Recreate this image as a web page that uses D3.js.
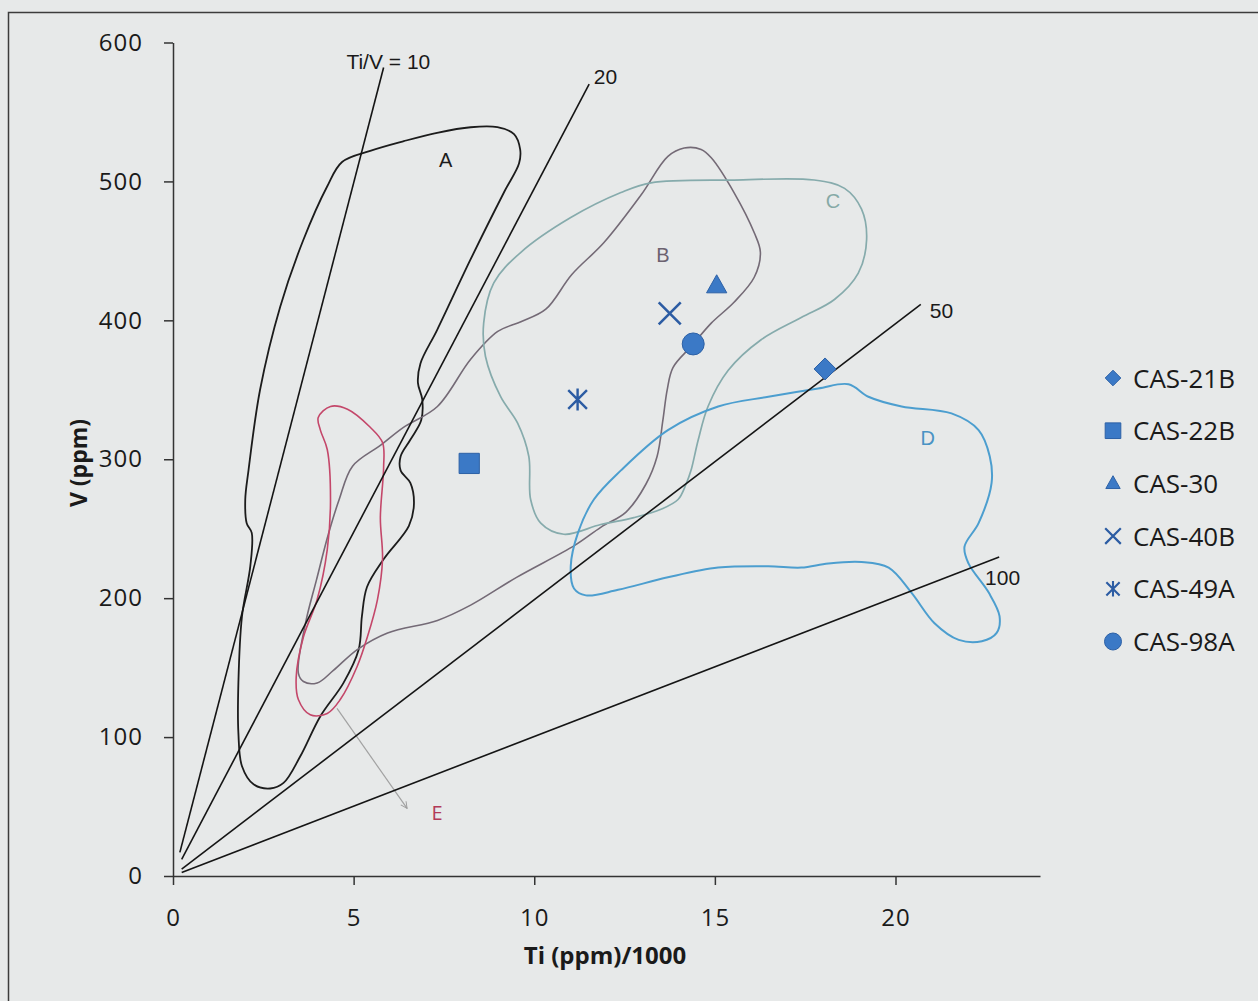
<!DOCTYPE html>
<html><head><meta charset="utf-8">
<script src="https://cdn.jsdelivr.net/npm/d3@7"></script>
<style>html,body{margin:0;padding:0;background:#e7e9e9;} svg{display:block}</style>
</head><body><svg id="chart" width="1258" height="1001"></svg>
<script>
// ---------- data ----------
const xTicks = [0, 5, 10, 15, 20];
const yTicks = [0, 100, 200, 300, 400, 500, 600];
const xTitle = "Ti (ppm)/1000";
const yTitle = "V (ppm)";

const sampleNames  = ["CAS-21B", "CAS-22B", "CAS-30", "CAS-40B", "CAS-49A", "CAS-98A"];
const sampleShapes = ["diamond", "square", "triangle", "x", "asterisk", "circle"];
const sampleTi     = [18.05, 8.2, 15.05, 13.75, 11.2, 14.4];
const sampleV      = [365, 297, 425, 405, 343, 383];

const ratioLabels  = ["Ti/V = 10", "20", "50", "100"];
const ratioStartTi = [0.19, 0.24, 0.24, 0.24];
const ratioStartV  = [17, 12, 5, 2.5];
const ratioEndTi   = [5.83, 11.52, 20.70, 22.87];
const ratioEndV    = [582, 570, 411.5, 229.6];
const ratioLabelTi = [4.80, 11.65, 20.95, 22.48];
const ratioLabelV  = [581, 570, 402, 209.5];

const fieldNames = ["A", "B", "C", "D", "E"];
const fieldA = [[4.68,514],[5.46,522],[6.39,529],[7.31,535],[8.24,539],[8.98,539],[9.44,534],[9.61,523],[9.58,513],[9.16,492],[8.24,444],[7.31,393],[6.85,369],[6.78,355],[6.90,343],[6.87,328],[6.57,314],[6.30,302],[6.30,292],[6.57,283],[6.67,268],[6.53,252],[5.83,228],[5.37,208],[5.23,187],[5.14,163],[4.72,139],[4.08,115],[3.52,86],[3.06,67],[2.69,63],[2.23,66],[1.91,79],[1.81,103],[1.81,139],[1.91,187],[2.14,223],[2.18,247],[2.04,254],[2.00,271],[2.09,292],[2.41,350],[2.97,410],[3.61,458],[4.26,496]];
const fieldB = [[3.47,146],[3.66,181],[3.97,213],[4.30,246],[4.60,271],[4.97,295],[5.74,310],[6.38,323],[7.32,338],[8.24,372],[8.99,392],[9.63,399],[10.32,408],[11.04,433],[11.93,456],[12.95,490],[13.70,518],[14.15,524],[14.62,523],[14.90,517],[15.53,492],[16.09,463],[16.26,449],[16.09,431],[15.53,413],[14.90,398],[14.37,382],[13.84,366],[13.68,350],[13.56,328],[13.40,302],[13.09,282],[12.54,262],[11.84,251],[11.12,238],[9.51,215],[8.24,195],[7.32,184],[5.94,175],[5.10,163],[4.44,148],[3.99,139],[3.61,140]];
const fieldC = [[9.63,449],[11.01,474],[12.40,492],[13.23,499],[15.53,501],[17.75,501],[18.59,495],[19.06,480],[19.20,458],[18.97,434],[18.31,415],[17.39,402],[16.28,386],[15.37,364],[14.81,338],[14.54,314],[14.34,292],[14.20,282],[13.98,271],[13.51,264],[12.76,258],[11.84,253],[10.82,246],[10.18,254],[9.90,271],[9.85,302],[9.54,326],[9.07,345],[8.65,374],[8.60,398],[8.88,427]];
const fieldD = [[11.65,271],[12.40,292],[13.70,321],[15.09,338],[16.48,345],[17.86,351],[18.70,354],[19.25,345],[20.17,338],[21.55,333],[22.30,321],[22.61,302],[22.66,283],[22.30,254],[21.91,237],[22.02,225],[22.58,204],[22.88,187],[22.80,175],[22.39,169],[21.75,170],[21.08,182],[20.44,204],[19.81,222],[19.06,226],[18.14,225],[17.39,222],[16.48,223],[15.09,222],[13.70,215],[12.32,206],[11.43,202],[11.10,207],[11.01,223],[11.21,247]];
const fieldE = [[4.02,330],[4.36,338],[4.83,336],[5.46,323],[5.80,312],[5.83,294],[5.74,258],[5.80,228],[5.66,199],[5.38,172],[5.10,151],[4.63,127],[4.27,117],[3.80,116],[3.47,127],[3.41,143],[3.61,172],[3.99,199],[4.27,235],[4.36,271],[4.27,307],[4.08,321]];
const fieldLabelTi = [7.55, 13.56, 18.27, 20.89, 7.31];
const fieldLabelV  = [510.7, 442.3, 480.7, 310.3, 40.3];
const arrowE = [[4.54, 120.6], [6.48, 48.7]];

// ---------- styles ----------
const fieldColors  = ["#1c1c1c", "#746a76", "#86abac", "#4c9ecf", "#c4476a"];
const labelColors  = ["#1c1c1c", "#6c6270", "#86a9a6", "#4a93c4", "#b23a58"];
const fieldWidths  = [1.8, 1.6, 1.7, 2.0, 1.6];
const markerFill = "#3b79c6", markerEdge = "#2d61a6", markerLine = "#2c5ca3";

const svg = d3.select("#chart");
const x = d3.scaleLinear().domain([0, 24]).range([173, 1040]);
const y = d3.scaleLinear().domain([0, 600]).range([876, 42.5]);

// background & frame
svg.append("rect").attr("width", 1258).attr("height", 1001).attr("fill", "#e7e9e9");
svg.append("rect").attr("x", 8.5).attr("y", 12.5).attr("width", 1300).attr("height", 1100)
  .attr("fill", "none").attr("stroke", "#3c3c3c").attr("stroke-width", 1.5);

// fields
const outline = d3.line().x(d => x(d[0])).y(d => y(d[1])).curve(d3.curveCatmullRomClosed.alpha(0.5));
const fields = [fieldA, fieldB, fieldC, fieldD, fieldE];
fields.forEach((f, i) => {
  svg.append("path").attr("d", outline(f)).attr("fill", "none")
    .attr("stroke", fieldColors[i]).attr("stroke-width", fieldWidths[i]).attr("stroke-linejoin", "round");
});

// arrow to E
const defs = svg.append("defs");
defs.append("marker").attr("id", "arr").attr("viewBox", "0 0 10 10").attr("refX", 9).attr("refY", 5)
  .attr("markerWidth", 8).attr("markerHeight", 8).attr("orient", "auto").attr("markerUnits", "userSpaceOnUse")
  .append("path").attr("d", "M1,1L9,5L1,9").attr("fill", "none").attr("stroke", "#9c9c9c").attr("stroke-width", 1.2);
svg.append("line").attr("x1", x(arrowE[0][0])).attr("y1", y(arrowE[0][1]))
  .attr("x2", x(arrowE[1][0])).attr("y2", y(arrowE[1][1]))
  .attr("stroke", "#a2a2a2").attr("stroke-width", 1.2).attr("marker-end", "url(#arr)");

// ratio lines
ratioLabels.forEach((lab, i) => {
  svg.append("line").attr("x1", x(ratioStartTi[i])).attr("y1", y(ratioStartV[i]))
    .attr("x2", x(ratioEndTi[i])).attr("y2", y(ratioEndV[i]))
    .attr("stroke", "#151515").attr("stroke-width", 1.6);
  svg.append("text").attr("x", x(ratioLabelTi[i])).attr("y", y(ratioLabelV[i]))
    .attr("font-family", "'Liberation Sans', Arial, sans-serif").attr("font-size", 21)
    .attr("fill", "#1a1a1a").text(lab);
});

// field labels
fieldNames.forEach((n, i) => {
  svg.append("text").attr("x", x(fieldLabelTi[i])).attr("y", y(fieldLabelV[i]))
    .attr("text-anchor", "middle")
    .attr("font-family", i === 4 ? "'Open Sans', sans-serif" : "'Liberation Sans', Arial, sans-serif")
    .attr("font-size", 20).attr("fill", labelColors[i]).text(n);
});

// axes
const axisFont = "'Open Sans', sans-serif";
const gx = svg.append("g").attr("transform", `translate(0,${y(0)})`)
  .call(d3.axisBottom(x).tickValues(xTicks).tickFormat(d3.format("d")).tickSize(9).tickSizeOuter(0).tickPadding(24));
const gy = svg.append("g").attr("transform", `translate(${x(0)},0)`)
  .call(d3.axisLeft(y).tickValues(yTicks).tickFormat(d3.format("d")).tickSize(9).tickSizeOuter(0).tickPadding(21));
[gx, gy].forEach(g => {
  g.select(".domain").attr("stroke", "#333").attr("stroke-width", 1.5);
  g.selectAll(".tick line").attr("stroke", "#333").attr("stroke-width", 1.5);
  g.selectAll(".tick text").attr("font-family", axisFont).attr("font-size", 24)
    .attr("letter-spacing", 1).attr("fill", "#1a1a1a");
});

svg.append("text").attr("x", 605).attr("y", 964).attr("text-anchor", "middle")
  .attr("font-family", axisFont).attr("font-weight", "bold").attr("font-size", 24).attr("fill", "#1a1a1a").text(xTitle);
svg.append("text").attr("transform", "translate(87,463) rotate(-90)").attr("text-anchor", "middle")
  .attr("font-family", axisFont).attr("font-weight", "bold").attr("font-size", 23).attr("fill", "#1a1a1a").text(yTitle);

// markers
function drawMarker(g, shape, s) {
  if (shape === "diamond") {
    g.append("path").attr("d", `M0,${-s}L${s},0L0,${s}L${-s},0Z`).attr("fill", markerFill).attr("stroke", markerEdge).attr("stroke-width", 1);
  } else if (shape === "square") {
    const h = s * 0.92;
    g.append("path").attr("d", `M${-h},${-h}H${h}V${h}H${-h}Z`).attr("fill", markerFill).attr("stroke", markerEdge).attr("stroke-width", 1);
  } else if (shape === "triangle") {
    const w = s * 0.92, h = s * 1.64;
    g.append("path").attr("d", `M0,${-h * 0.6}L${w},${h * 0.4}L${-w},${h * 0.4}Z`).attr("fill", markerFill).attr("stroke", markerEdge).attr("stroke-width", 1);
  } else if (shape === "x") {
    g.append("path").attr("d", `M${-s},${-s}L${s},${s}M${-s},${s}L${s},${-s}`).attr("stroke", markerLine).attr("stroke-width", s > 9 ? 2.6 : 2.2).attr("fill", "none");
  } else if (shape === "asterisk") {
    const a = s * 0.85;
    g.append("path").attr("d", `M${-a},${-a}L${a},${a}M${-a},${a}L${a},${-a}M0,${-s}L0,${s}`).attr("stroke", markerLine).attr("stroke-width", s > 9 ? 2.4 : 2.1).attr("fill", "none");
  } else if (shape === "circle") {
    g.append("circle").attr("r", s).attr("fill", markerFill).attr("stroke", markerEdge).attr("stroke-width", 1);
  }
}
sampleNames.forEach((n, i) => {
  const g = svg.append("g").attr("transform", `translate(${x(sampleTi[i])},${y(sampleV[i])})`);
  drawMarker(g, sampleShapes[i], 11);
});

// legend
const legendX = 1113, legendY0 = 378, legendStep = 52.7;
sampleNames.forEach((n, i) => {
  const cy = legendY0 + i * legendStep;
  const g = svg.append("g").attr("transform", `translate(${legendX},${cy})`);
  drawMarker(g, sampleShapes[i], sampleShapes[i] === "square" || sampleShapes[i] === "circle" ? 8.5 : 7.8);
  svg.append("text").attr("x", 1133).attr("y", cy + 9.5)
    .attr("font-family", axisFont).attr("font-size", 26).attr("fill", "#1a1a1a").text(n);
});
</script></body></html>
